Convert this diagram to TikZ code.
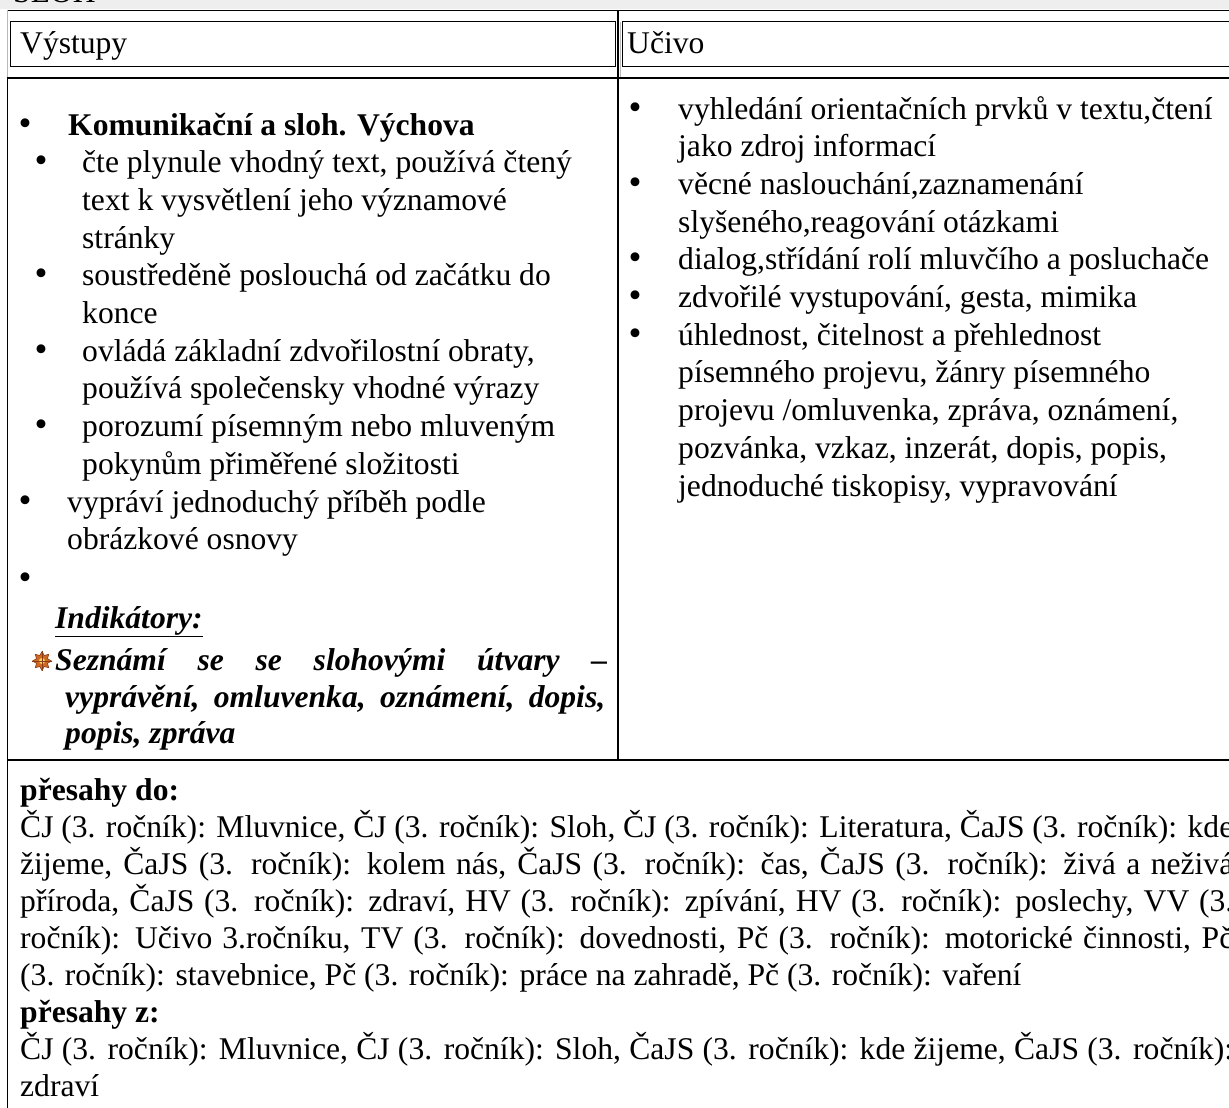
\documentclass[tikz,border=0pt]{standalone}
\usepackage{fontspec}
\setmainfont{Liberation Serif}
\usetikzlibrary{shapes.geometric}
\definecolor{oranzova}{RGB}{205,105,35}
\definecolor{hneda}{RGB}{140,60,20}
\definecolor{zluta}{RGB}{250,215,90}

\begin{document}
\begin{tikzpicture}[x=1pt,y=-1pt,
  every node/.style={font=\fontsize{31.6}{37.7}\selectfont},
  txt/.style={anchor=base west,inner sep=0pt},
  tecka/.style={anchor=base,inner sep=0pt,font=\fontsize{37}{37}\selectfont},
  cara/.style={line width=1.3pt},
  ramecek/.style={line width=1pt},
  seda/.style={line width=1pt,gray!55}]
      \useasboundingbox (0,0) rectangle (1229,1108);
      \clip (0,0) rectangle (1229,1108);
      \fill[gray!13] (0,0) rectangle (1229,9);
      \draw (13,3) node[txt] (nadpis) {SLOH};
      \draw[cara] (7,10.5) -- (1229,10.5);
      \draw[seda] (7.5,10.5) -- (7.5,78);
      \draw[cara] (7.5,78) -- (7.5,1108);
      \draw[cara] (618,10.5) -- (618,760);
      \draw[seda] (620.5,22) -- (620.5,78);
      \draw[ramecek] (10.5,22) rectangle (615,66.7);
      \draw[ramecek] (622,22) rectangle (1240,66.7);
      \draw[cara] (7,78) -- (1229,78);
      \draw[cara] (7,760) -- (1229,760);
      \draw (20,53.3) node[txt] (vystupy) {Výstupy};
      \draw (627,53.3) node[txt] (ucivo) {Učivo};
      \draw (25,135) node[tecka] (bodA) {•};
      \draw (68,135) node[txt] (komunikace) {\bfseries Komunikační a sloh. Výchova};
      \draw (41,172.7) node[tecka] (bodB) {•};
      \draw (82,172.7) node[txt] (cte1) {čte plynule vhodný text, používá čtený};
      \draw (82,210.4) node[txt] (cte2) {text k vysvětlení jeho významové};
      \draw (82,248.1) node[txt] (cte3) {stránky};
      \draw (41,285.8) node[tecka] (bodC) {•};
      \draw (82,285.8) node[txt] (posloucha1) {soustředěně poslouchá od začátku do};
      \draw (82,323.5) node[txt] (posloucha2) {konce};
      \draw (41,361.2) node[tecka] (bodD) {•};
      \draw (82,361.2) node[txt] (ovlada1) {ovládá základní zdvořilostní obraty,};
      \draw (82,398.9) node[txt] (ovlada2) {používá společensky vhodné výrazy};
      \draw (41,436.6) node[tecka] (bodE) {•};
      \draw (82,436.6) node[txt] (porozumi1) {porozumí písemným nebo mluveným};
      \draw (82,474.3) node[txt] (porozumi2) {pokynům přiměřené složitosti};
      \draw (25,512) node[tecka] (bodF) {•};
      \draw (67,512) node[txt] (vypravi1) {vypráví jednoduchý příběh podle};
      \draw (67,549.7) node[txt] (vypravi2) {obrázkové osnovy};
      \draw (25,589) node[tecka] (bodG) {•};
      \draw (55,628) node[txt] (indikatory) {\bfseries\itshape\underline{Indikátory:}};
      \draw (42,661) node[star,star points=8,star point ratio=1.6,minimum size=19pt,inner sep=0pt,fill=oranzova,draw=hneda,line width=0.6pt] (hvezda) {};
      \fill[zluta] (hvezda.center) circle (3pt);
      \draw[hneda,line width=0.8pt] (hvezda.north) -- (hvezda.south);
      \draw[hneda,line width=0.8pt] (hvezda.west) -- (hvezda.east);
      \draw (55,670) node[txt] (seznami1) {\bfseries\itshape\makebox[552pt][s]{Seznámí se se slohovými útvary –}};
      \draw (65,707) node[txt] (seznami2) {\bfseries\itshape\makebox[540pt][s]{vyprávění, omluvenka, oznámení, dopis,}};
      \draw (65,743) node[txt] (seznami3) {\bfseries\itshape popis, zpráva};
      \draw (635,119) node[tecka] (bodH) {•};
      \draw (678,119) node[txt] (vyhledani1) {vyhledání orientačních prvků v textu,čtení};
      \draw (678,156.7) node[txt] (vyhledani2) {jako zdroj informací};
      \draw (635,194.4) node[tecka] (bodI) {•};
      \draw (678,194.4) node[txt] (naslouchani1) {věcné naslouchání,zaznamenání};
      \draw (678,232.1) node[txt] (naslouchani2) {slyšeného,reagování otázkami};
      \draw (635,269.8) node[tecka] (bodJ) {•};
      \draw (678,269.8) node[txt] (dialog) {dialog,střídání rolí mluvčího a posluchače};
      \draw (635,307.5) node[tecka] (bodK) {•};
      \draw (678,307.5) node[txt] (vystupovani) {zdvořilé vystupování, gesta, mimika};
      \draw (635,345.2) node[tecka] (bodL) {•};
      \draw (678,345.2) node[txt] (uhlednost1) {úhlednost, čitelnost a přehlednost};
      \draw (678,382.9) node[txt] (uhlednost2) {písemného projevu, žánry písemného};
      \draw (678,420.6) node[txt] (uhlednost3) {projevu /omluvenka, zpráva, oznámení,};
      \draw (678,458.3) node[txt] (uhlednost4) {pozvánka, vzkaz, inzerát, dopis, popis,};
      \draw (678,496) node[txt] (uhlednost5) {jednoduché tiskopisy, vypravování};
      \draw (20,800) node[txt] (presahyDo) {\bfseries přesahy do:};
      \draw (20,837.1) node[txt] (do1) {\makebox[1213pt][s]{ČJ (3. ročník): Mluvnice, ČJ (3. ročník): Sloh, ČJ (3. ročník): Literatura, ČaJS (3. ročník): kde}};
      \draw (20,874.2) node[txt] (do2) {\makebox[1213pt][s]{žijeme, ČaJS (3. ročník): kolem nás, ČaJS (3. ročník): čas, ČaJS (3. ročník): živá a neživá}};
      \draw (20,911.3) node[txt] (do3) {\makebox[1213pt][s]{příroda, ČaJS (3. ročník): zdraví, HV (3. ročník): zpívání, HV (3. ročník): poslechy, VV (3.}};
      \draw (20,948.4) node[txt] (do4) {\makebox[1213pt][s]{ročník): Učivo 3.ročníku, TV (3. ročník): dovednosti, Pč (3. ročník): motorické činnosti, Pč}};
      \draw (20,985.5) node[txt] (do5) {(3. ročník): stavebnice, Pč (3. ročník): práce na zahradě, Pč (3. ročník): vaření};
      \draw (20,1022.6) node[txt] (presahyZ) {\bfseries přesahy z:};
      \draw (20,1059.7) node[txt] (z1) {\makebox[1213pt][s]{ČJ (3. ročník): Mluvnice, ČJ (3. ročník): Sloh, ČaJS (3. ročník): kde žijeme, ČaJS (3. ročník):}};
      \draw (20,1096.8) node[txt] (z2) {zdraví};
\end{tikzpicture}
\end{document}
